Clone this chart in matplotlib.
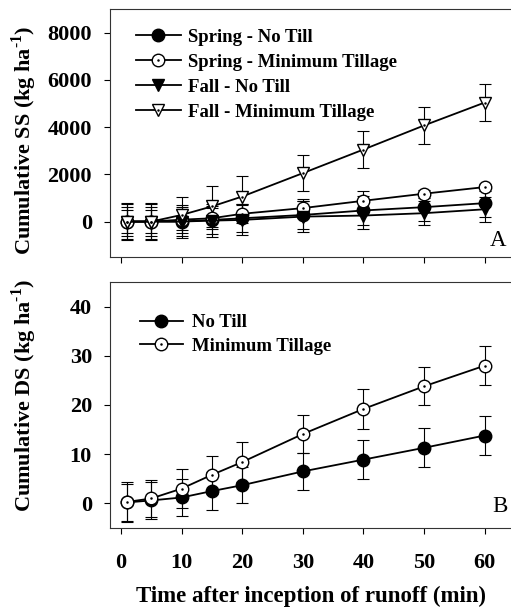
import matplotlib
matplotlib.use("Agg")
import matplotlib.pyplot as plt

plt.rcParams['font.family'] = ['Liberation Serif', 'DejaVu Serif']
plt.rcParams['mathtext.fontset'] = 'custom'
plt.rcParams['mathtext.rm'] = 'Liberation Serif:bold'
plt.rcParams['mathtext.bf'] = 'Liberation Serif:bold'

# Tiempo (min)
tiempo = [1, 5, 10, 15, 20, 30, 40, 50, 60]

# Panel A: sedimento en suspension (kg/ha)
ss_primavera_nt = [0, 0, 0, 70, 140, 280, 470, 610, 780]
ss_primavera_nt_err = [600, 600, 600, 600, 600, 600, 600, 600, 600]
ss_primavera_mt = [0, 0, 80, 140, 330, 570, 880, 1180, 1460]
ss_primavera_mt_err = [500, 500, 450, 450, 400, 400, 400, 170, 150]
ss_otono_nt = [0, 0, 0, 40, 70, 210, 255, 355, 520]
ss_otono_nt_err = [750, 750, 710, 700, 650, 640, 555, 515, 520]
ss_otono_mt = [0, 0, 280, 640, 1060, 2050, 3050, 4070, 5040]
ss_otono_mt_err = [800, 800, 780, 850, 850, 770, 780, 800, 800]

# Panel B: sedimento disuelto (kg/ha)
ds_nt = [0.2, 0.6, 1.2, 2.5, 3.7, 6.5, 8.9, 11.3, 13.8]
ds_nt_err = [3.8, 3.8, 3.7, 3.85, 3.7, 3.8, 4.0, 4.0, 3.9]
ds_mt = [0.3, 1.0, 3.0, 5.8, 8.4, 14.1, 19.2, 23.8, 28.0]
ds_mt_err = [4.0, 3.7, 4.0, 3.9, 4.0, 3.9, 4.0, 3.9, 4.0]

fig = plt.figure(figsize=(5.11, 6.15), dpi=100)
ax1 = fig.add_axes([110/511, 1-257/615, 402/511, 248/615])
ax2 = fig.add_axes([110/511, 1-528/615, 402/511, 246/615])


def serie(ax, y, err, marcador, relleno, etiqueta, punto=False):
    ax.errorbar(tiempo, y, yerr=err, fmt='none', ecolor='black', elinewidth=0.8,
                capsize=4, capthick=0.8, zorder=2)
    linea, = ax.plot(tiempo, y, color='black', lw=1.3, marker=marcador, ms=9,
                     mfc=relleno, mec='black', mew=1.0, zorder=3)
    if punto:
        p, = ax.plot(tiempo, y, ls='none', marker='.', ms=1.6, color='black', zorder=4)
        return (linea, p), etiqueta
    return linea, etiqueta


h = []
h.append(serie(ax1, ss_primavera_nt, ss_primavera_nt_err, 'o', 'black', 'Spring - No Till'))
h.append(serie(ax1, ss_primavera_mt, ss_primavera_mt_err, 'o', 'white', 'Spring - Minimum Tillage', True))
h.append(serie(ax1, ss_otono_nt, ss_otono_nt_err, 'v', 'black', 'Fall - No Till'))
h.append(serie(ax1, ss_otono_mt, ss_otono_mt_err, 'v', 'white', 'Fall - Minimum Tillage', True))
ax1.legend([a for a, b in h], [b for a, b in h], loc='upper left', frameon=False,
           prop={'size': 13.5, 'weight': 'bold'}, handlelength=2.4, handletextpad=0.4,
           labelspacing=0.42, borderaxespad=0.0, bbox_to_anchor=(0.045, 0.95))

h2 = []
h2.append(serie(ax2, ds_nt, ds_nt_err, 'o', 'black', 'No Till'))
h2.append(serie(ax2, ds_mt, ds_mt_err, 'o', 'white', 'Minimum Tillage', True))
ax2.legend([a for a, b in h2], [b for a, b in h2], loc='upper left', frameon=False,
           prop={'size': 13.5, 'weight': 'bold'}, handlelength=2.3, handletextpad=0.5,
           labelspacing=0.35, borderaxespad=0.0, bbox_to_anchor=(0.055, 0.9))

ax1.set_ylim(-1500, 9000)
ax1.set_yticks([0, 2000, 4000, 6000, 8000])
ax2.set_ylim(-5, 45)
ax2.set_yticks([0, 10, 20, 30, 40])

for ax in (ax1, ax2):
    ax.set_xlim(-1.8, 64.5)
    ax.set_xticks([0, 10, 20, 30, 40, 50, 60])
    ax.tick_params(direction='out', length=4, width=0.8, labelsize=16)
    ax.tick_params(axis='y', pad=9)
    ax.tick_params(axis='x', pad=14)
    for lab in ax.get_yticklabels() + ax.get_xticklabels():
        lab.set_fontweight('bold')
    for s in ax.spines.values():
        s.set_linewidth(0.8)
        s.set_color('#333333')
    ax.spines['right'].set_visible(False)

ax1.tick_params(labelbottom=False)

ax1.text(0.985, 0.025, 'A', transform=ax1.transAxes, ha='right', va='bottom', fontsize=16.5)
ax2.text(0.99, 0.045, 'B', transform=ax2.transAxes, ha='right', va='bottom', fontsize=16.5)

ax1.set_ylabel(r'Cumulative SS (kg ha$^{\text{-1}}$)', fontsize=16, fontweight='bold')
ax2.set_ylabel(r'Cumulative DS (kg ha$^{\text{-1}}$)', fontsize=16, fontweight='bold')
ax1.yaxis.set_label_coords(-0.177, 0.472)
ax2.yaxis.set_label_coords(-0.177, 0.54)
ax2.set_xlabel('Time after inception of runoff (min)', fontsize=16.5, fontweight='bold')
ax2.xaxis.set_label_coords(0.5, -0.235)

fig.savefig('out.png', dpi=100)
